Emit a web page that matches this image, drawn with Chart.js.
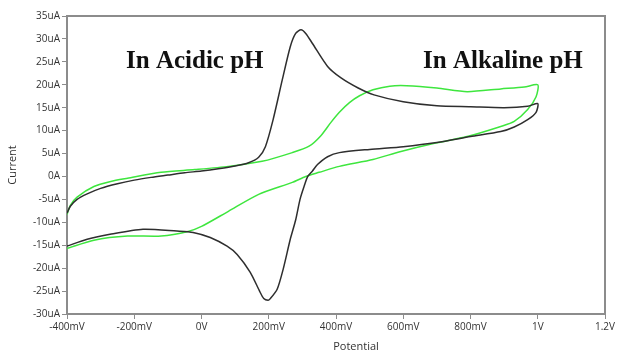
<!DOCTYPE html>
<html>
<head>
<meta charset="utf-8">
<script src="https://cdn.jsdelivr.net/npm/chart.js@4.4.0/dist/chart.umd.min.js"></script>
<style>
  html, body { margin: 0; padding: 0; background: #fff; }
  #grafico { display: block; }
</style>
</head>
<body>
<canvas id="grafico" width="618" height="354"></canvas>
<script>
// potential (V) and current (uA), in scan order
const acidicV = [-0.40, -0.39, -0.37, -0.34, -0.30, -0.25, -0.20, -0.15, -0.10, -0.05, 0.00, 0.05, 0.10, 0.14, 0.17, 0.19, 0.213, 0.24, 0.264, 0.28, 0.296, 0.31, 0.33, 0.375, 0.415, 0.466, 0.513, 0.60, 0.70, 0.80, 0.90, 0.97, 1.00,
                 0.995, 0.97, 0.93, 0.89, 0.80, 0.70, 0.60, 0.50, 0.41, 0.375, 0.345, 0.33, 0.316, 0.305, 0.293, 0.28, 0.264, 0.243, 0.225, 0.204, 0.198, 0.185, 0.174, 0.145, 0.106, 0.076, 0.026, -0.025, -0.073, -0.174, -0.272, -0.34, -0.40];
const acidicI = [-8.0, -6.5, -5.0, -3.8, -2.6, -1.6, -0.8, -0.2, 0.3, 0.8, 1.2, 1.7, 2.3, 3.0, 4.2, 6.5, 12.4, 21.0, 28.3, 31.2, 32.0, 31.2, 29.0, 24.0, 21.5, 19.3, 17.8, 16.3, 15.4, 15.2, 15.0, 15.3, 15.9,
                 14.0, 12.4, 10.8, 9.8, 8.7, 7.4, 6.5, 5.9, 5.2, 4.3, 2.6, 1.2, 0.0, -2.2, -5.0, -9.5, -13.7, -20.2, -24.6, -26.7, -27.0, -26.6, -25.2, -20.9, -17.0, -15.2, -13.3, -12.2, -11.9, -11.5, -12.6, -13.7, -15.2];

const alkalineV = [-0.40, -0.39, -0.37, -0.32, -0.27, -0.22, -0.12, -0.02, 0.08, 0.18, 0.27, 0.32, 0.355, 0.385, 0.41, 0.44, 0.47, 0.51, 0.56, 0.61, 0.70, 0.79, 0.89, 0.96, 1.00,
                   0.995, 0.97, 0.93, 0.89, 0.79, 0.69, 0.59, 0.51, 0.41, 0.35, 0.31, 0.27, 0.17, 0.08, 0.00, -0.04, -0.12, -0.22, -0.32, -0.40];
const alkalineI = [-8.3, -6.3, -4.5, -2.2, -1.1, -0.4, 0.9, 1.5, 2.2, 3.3, 5.2, 6.6, 8.9, 11.8, 14.0, 16.1, 17.6, 18.9, 19.7, 19.8, 19.3, 18.5, 19.1, 19.5, 20.0,
                   17.4, 14.6, 12.0, 10.9, 8.7, 7.2, 5.4, 3.7, 2.2, 0.9, 0.0, -1.3, -3.9, -7.6, -10.9, -12.0, -13.0, -13.0, -13.9, -15.7];

const xTickValues = [-0.4, -0.2, 0, 0.2, 0.4, 0.6, 0.8, 1.0, 1.2];
const xTickLabels = ["-400mV", "-200mV", "0V", "200mV", "400mV", "600mV", "800mV", "1V", "1.2V"];
const yTickValues = [-30, -25, -20, -15, -10, -5, 0, 5, 10, 15, 20, 25, 30, 35];
const yTickLabels = ["-30uA", "-25uA", "-20uA", "-15uA", "-10uA", "-5uA", "0A", "5uA", "10uA", "15uA", "20uA", "25uA", "30uA", "35uA"];

const pontos = (xs, ys) => xs.map((x, i) => ({ x: x, y: ys[i] }));

const corEixo = "#8c8c8c";

// moldura + textos do gráfico
const extras = {
  id: "extras",
  afterDraw(chart) {
    const c = chart.ctx;
    const a = chart.chartArea;
    c.save();
    c.strokeStyle = corEixo;
    c.lineWidth = 2;
    c.beginPath();
    c.moveTo(a.left, a.top);
    c.lineTo(a.right, a.top);
    c.lineTo(a.right, a.bottom);
    c.stroke();

    c.fillStyle = "#111";
    c.font = "bold 25px 'Liberation Serif'";
    c.textBaseline = "alphabetic";
    c.textAlign = "left";
    c.fillText("In Acidic pH", 126, 68);
    c.fillText("In Alkaline pH", 423, 68);

    c.fillStyle = "#333";
    c.font = "11px 'Open Sans'";
    c.textAlign = "center";
    c.fillText("Potential", 356, 350);
    c.restore();
  }
};

const ctx = document.getElementById("grafico");

new Chart(ctx, {
  type: "scatter",
  data: {
    datasets: [
      {
        label: "In Acidic pH",
        data: pontos(acidicV, acidicI),
        showLine: true,
        borderColor: "#2e2e2e",
        borderWidth: 1.5,
        pointRadius: 0,
        tension: 0.25,
      },
      {
        label: "In Alkaline pH",
        data: pontos(alkalineV, alkalineI),
        showLine: true,
        borderColor: "#3ee63e",
        borderWidth: 1.5,
        pointRadius: 0,
        tension: 0.25,
      },
    ],
  },
  options: {
    responsive: false,
    animation: false,
    devicePixelRatio: 1,
    layout: { padding: { top: 16, right: 13, left: 0, bottom: 0 } },
    plugins: { legend: { display: false }, tooltip: { enabled: false } },
    scales: {
      x: {
        type: "linear",
        min: -0.4,
        max: 1.2,
        afterFit: (s) => { s.height = 40; },
        afterBuildTicks: (s) => { s.ticks = xTickValues.map((v) => ({ value: v })); },
        ticks: {
          callback: (v, i) => xTickLabels[i],
          color: "#333",
          font: { family: "'Open Sans'", size: 10 },
          padding: 2,
          maxRotation: 0,
        },
        grid: { drawOnChartArea: false, color: corEixo, tickLength: 5 },
        border: { color: corEixo, width: 2 },
      },
      y: {
        min: -30,
        max: 35,
        afterFit: (s) => { s.width = 67; },
        afterBuildTicks: (s) => { s.ticks = yTickValues.map((v) => ({ value: v })); },
        ticks: {
          callback: (v, i) => yTickLabels[i],
          color: "#333",
          font: { family: "'Open Sans'", size: 10 },
          padding: 2,
        },
        grid: { drawOnChartArea: false, color: corEixo, tickLength: 5 },
        border: { color: corEixo, width: 2 },
        title: {
          display: true,
          text: "Current",
          color: "#333",
          font: { family: "'Open Sans'", size: 11 },
          padding: { top: 6, bottom: 0 },
        },
      },
    },
  },
  plugins: [extras],
});
</script>
</body>
</html>
